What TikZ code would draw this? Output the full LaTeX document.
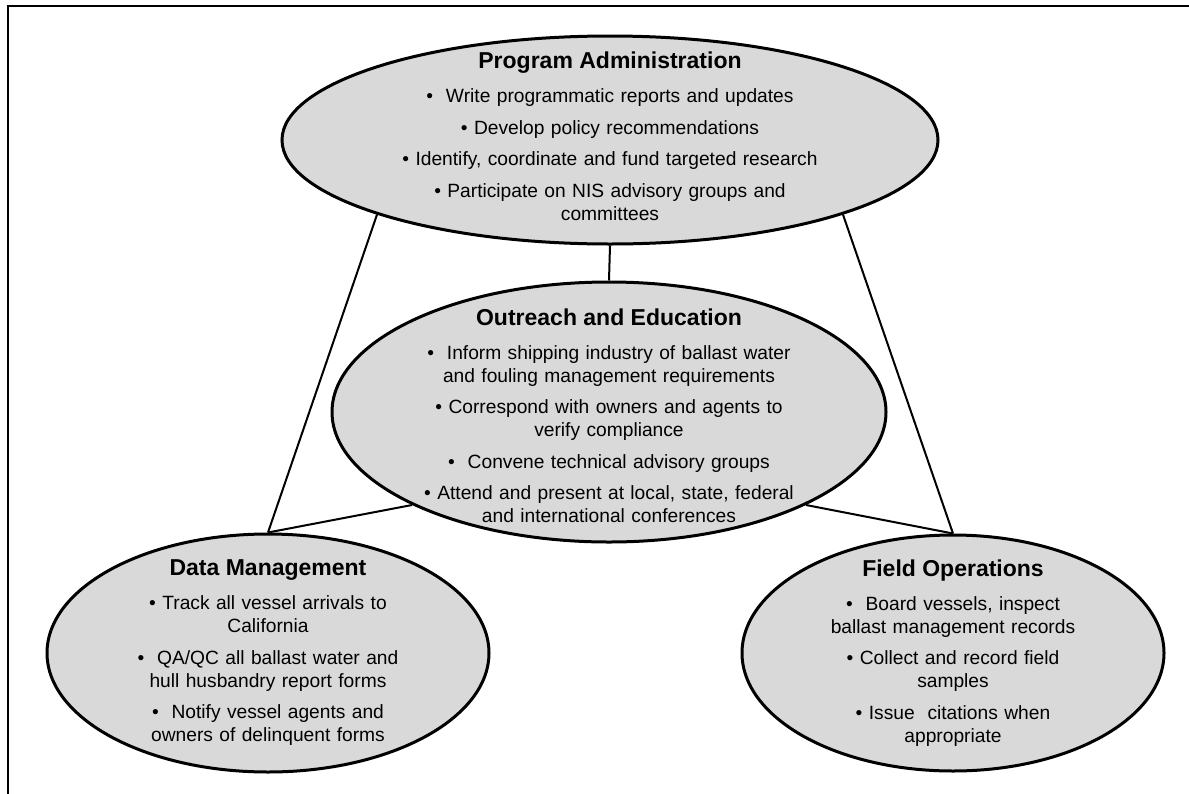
\documentclass[tikz,border=0pt]{standalone}
\usepackage{fontspec}
\setmainfont{Liberation Sans}
\usepackage{tikz}
\usetikzlibrary{shapes.geometric}
\tikzstyle{bubble} = [ellipse, draw=black, line width=1.5pt, fill=bubblegray, inner sep=0pt]
\tikzstyle{bubbletext} = [text width=300pt, align=center, inner sep=0pt, font=\fontsize{9.6}{11.5}\selectfont]
\tikzstyle{link} = [line width=1pt]
\tikzstyle{frame} = [line width=1pt]
\definecolor{bubblegray}{RGB}{217,217,217}
\newcommand{\heading}[1]{{\fontsize{11.5}{11.5}\selectfont\bfseries #1}}

\begin{document}
\begin{tikzpicture}[x=0.5pt,y=-0.5pt]
\useasboundingbox (0,0) rectangle (1189,793);
\clip (0,0) rectangle (1189,793);
\draw[frame] (8,803) -- (8,6) -- (1199,6);
\node (admin) [bubble, minimum width=328pt, minimum height=104pt] at (610,140) {};
\node (outreach) [bubble, minimum width=277pt, minimum height=130pt] at (609,412) {};
\node (data) [bubble, minimum width=221pt, minimum height=119pt] at (268,653) {};
\node (field) [bubble, minimum width=211pt, minimum height=118pt] at (953,653) {};
\draw[link] (admin.south) -- (outreach.north);
\draw[link] (admin.south west) -- (data.north);
\draw[link] (admin.south east) -- (field.north);
\draw[link] (outreach.south west) -- (data.north);
\draw[link] (outreach.south east) -- (field.north);
\node (admintext) [bubbletext, yshift=1.75pt] at (admin) {\heading{Program Administration}\\[5.5pt]
\textbullet\ \ Write programmatic reports and updates\\[4.25pt]
\textbullet\ Develop policy recommendations\\[4.25pt]
\textbullet\ Identify, coordinate and fund targeted research\\[4.25pt]
\textbullet\ Participate on NIS advisory groups and\\
committees};
\node (outreachtext) [bubbletext, yshift=-2pt] at (outreach) {\heading{Outreach and Education}\\[5.5pt]
\textbullet\ \ Inform shipping industry of ballast water\\
and fouling management requirements\\[4.25pt]
\textbullet\ Correspond with owners and agents to\\
verify compliance\\[4.25pt]
\textbullet\ \ Convene technical advisory groups\\[4.25pt]
\textbullet\ Attend and present at local, state, federal\\
and international conferences};
\node (datatext) [bubbletext] at (data) {\heading{Data Management}\\[5.5pt]
\textbullet\ Track all vessel arrivals to\\
California\\[4.25pt]
\textbullet\ \ QA/QC all ballast water and\\
hull husbandry report forms\\[4.25pt]
\textbullet\ \ Notify vessel agents and\\
owners of delinquent forms};
\node (fieldtext) [bubbletext] at (field) {\heading{Field Operations}\\[5.5pt]
\textbullet\ \ Board vessels, inspect\\
ballast management records\\[4.25pt]
\textbullet\ Collect and record field\\
samples\\[4.25pt]
\textbullet\ Issue\ \ citations when\\
appropriate};
\end{tikzpicture}
\end{document}
